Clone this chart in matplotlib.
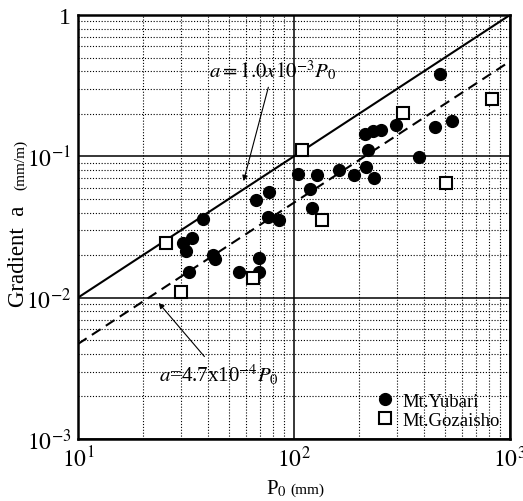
import matplotlib
matplotlib.use("Agg")
import matplotlib.pyplot as plt
from matplotlib.ticker import FixedLocator, LogLocator, NullFormatter

plt.rcParams["font.family"] = ["Liberation Serif", "DejaVu Serif"]
plt.rcParams["mathtext.fontset"] = "stix"

# Mt.Yubari (filled circles)
yubari_p0 = [30.7, 33.8, 31.6, 32.7, 38.0, 42.2, 43.3, 55.6, 69.1, 69.1,
             66.5, 76.9, 76.0, 85.2, 104.4, 128.2, 118.6, 121.6, 161.6, 189.6,
             215.4, 234.6, 219.4, 213.2, 231.4, 251.9, 296.6, 380.3, 449.6, 540.6,
             474.2]
yubari_a = [0.0242, 0.0263, 0.0213, 0.0151, 0.0360, 0.0199, 0.0189, 0.0151, 0.0190, 0.0151,
            0.0489, 0.0556, 0.0370, 0.0356, 0.0750, 0.0741, 0.0587, 0.0431, 0.0800, 0.0741,
            0.0836, 0.0703, 0.111, 0.144, 0.150, 0.154, 0.1675, 0.0984, 0.162, 0.177,
            0.382]

# Mt.Gozaisho (open squares)
gozaisho_p0 = [25.5, 30.0, 64.4, 108.5, 135.2, 320.6, 503.8, 822.7]
gozaisho_a = [0.0242, 0.0110, 0.0138, 0.111, 0.0356, 0.2016, 0.0644, 0.2545]

# fitted relations a = k * P0
line_p0 = [10, 1000]
k_upper = 1.0e-3
k_lower = 4.7e-4

x_ticks = [10, 100, 1000]
x_ticklabels = ["$10^{1}$", "$10^{2}$", "$10^{3}$"]
y_ticks = [1e-3, 1e-2, 1e-1, 1]
y_ticklabels = ["$10^{-3}$", "$10^{-2}$", "$10^{-1}$", "1"]

fig = plt.figure(figsize=(5.23, 5.02), dpi=100)
ax = fig.add_axes([0.149, 0.1235, 0.826, 0.8446])

ax.set_xscale("log")
ax.set_yscale("log")
ax.set_xlim(10, 1000)
ax.set_ylim(1e-3, 1)

ax.xaxis.set_major_locator(FixedLocator(x_ticks))
ax.yaxis.set_major_locator(FixedLocator(y_ticks))
ax.set_xticklabels(x_ticklabels)
ax.set_yticklabels(y_ticklabels)
ax.xaxis.set_minor_locator(LogLocator(base=10, subs=range(2, 10)))
ax.yaxis.set_minor_locator(LogLocator(base=10, subs=range(2, 10)))
ax.xaxis.set_minor_formatter(NullFormatter())
ax.yaxis.set_minor_formatter(NullFormatter())
ax.tick_params(which="both", length=0, labelsize=17, pad=5)

ax.grid(which="major", color="black", linestyle="-", linewidth=1.1)
ax.grid(which="minor", color="black", linestyle=(0, (1, 1.6)), linewidth=0.8)
ax.set_axisbelow(True)
for spine in ax.spines.values():
    spine.set_linewidth(1.8)

ax.plot(line_p0, [k_upper * p for p in line_p0], color="black", linewidth=1.5)
ax.plot(line_p0, [k_lower * p for p in line_p0], color="black", linewidth=1.5,
        linestyle=(0, (5, 3)))

ax.plot(yubari_p0, yubari_a, "o", color="black", markersize=8.5, label="Mt.Yubari")
ax.plot(gozaisho_p0, gozaisho_a, "s", markerfacecolor="white", markeredgecolor="black",
        markeredgewidth=1.5, markersize=8.5, label="Mt.Gozaisho")

arrow = dict(arrowstyle="-|>", color="black", linewidth=0.8, mutation_scale=8)
ax.annotate(r"$\mathit{a}\mathit{=1.0x10^{-3}P_0}$", xy=(58, 0.064), xytext=(80, 0.41),
            ha="center", va="center", fontsize=15, arrowprops=arrow)
ax.annotate(r"$\mathit{a}$=4.7x10$^{-4}$$\mathit{P}_0$", xy=(23.2, 0.0095), xytext=(45, 0.0029),
            ha="center", va="center", fontsize=15, arrowprops=arrow)

ax.legend(loc="lower right", frameon=False, fontsize=13.5, handletextpad=0.4,
          borderaxespad=0.15, labelspacing=0.1, handlelength=1.0)

fig.text(19 / 523, 1 - 307 / 502, "Gradient  a", rotation=90, ha="center", va="bottom",
         fontsize=16.5)
fig.text(21 / 523, 1 - 190 / 502, "(mm/m)", rotation=90, ha="center", va="bottom",
         fontsize=11)
fig.text(287 / 523, 1 - 494 / 502, "P$_0$", ha="right", va="baseline", fontsize=15)
fig.text(290 / 523, 1 - 494 / 502, "(mm)", ha="left", va="baseline", fontsize=11)

fig.savefig("out.png", dpi=100)
